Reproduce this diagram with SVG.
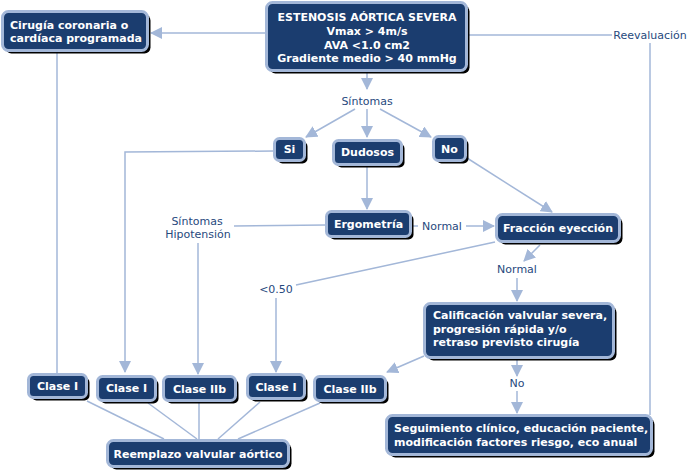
<svg xmlns="http://www.w3.org/2000/svg" width="690" height="474" viewBox="0 0 690 474">
<defs>
<marker id="arr" markerUnits="userSpaceOnUse" markerWidth="12" markerHeight="12" viewBox="0 0 12 12" refX="11" refY="6" orient="auto">
<path d="M0,0 L12,6 L0,12 Z" fill="#a3b7d8"/>
</marker>
<style>
.sh{fill:#000}
.bx{fill:#1b3d6f;stroke:#a3b7d8;stroke-width:3}
.t{font-family:"DejaVu Sans",Verdana,sans-serif;font-size:11px;font-weight:bold;fill:#fff}
.c{text-anchor:middle}
.lb{font-family:"DejaVu Sans",Verdana,sans-serif;font-size:11px;fill:#27497d;text-anchor:middle}
.ln{fill:none;stroke:#a3b7d8;stroke-width:1.5}
.ar{marker-end:url(#arr)}
</style>
</defs>
<rect width="690" height="474" fill="#fff"/>
<g id="connectors">
<line class="ln ar" x1="266" y1="33" x2="151" y2="33"/>
<line class="ln" x1="468" y1="35" x2="612" y2="35"/>
<text class="lb" x="650" y="39">Reevaluación</text>
<line class="ln" x1="650" y1="43" x2="650" y2="415"/>
<line class="ln ar" x1="367" y1="72" x2="367" y2="89"/>
<text class="lb" x="367" y="105">Síntomas</text>
<line class="ln ar" x1="355" y1="109" x2="306" y2="137"/>
<line class="ln ar" x1="367" y1="109" x2="367" y2="137"/>
<line class="ln ar" x1="380" y1="109" x2="431" y2="137"/>
<line class="ln" x1="57" y1="52" x2="57" y2="374"/>
<polyline class="ln ar" points="274,151 125,152 125,372"/>
<line class="ln ar" x1="367" y1="166" x2="367" y2="209"/>
<line class="ln" x1="412" y1="226" x2="418" y2="226"/>
<text class="lb" x="442" y="230">Normal</text>
<line class="ln ar" x1="466" y1="226" x2="494" y2="226"/>
<line class="ln" x1="326" y1="225" x2="234" y2="226"/>
<text class="lb" x="197" y="225">Síntomas</text>
<text class="lb" x="198" y="238">Hipotensión</text>
<line class="ln ar" x1="198" y1="243" x2="198" y2="374"/>
<line class="ln ar" x1="467" y1="158" x2="552" y2="212"/>
<line class="ln" x1="495" y1="242" x2="296" y2="285"/>
<text class="lb" x="276" y="293">&lt;0.50</text>
<line class="ln ar" x1="276" y1="298" x2="276" y2="372"/>
<line class="ln ar" x1="540" y1="245" x2="524" y2="261"/>
<text class="lb" x="517" y="273">Normal</text>
<line class="ln ar" x1="517" y1="278" x2="517" y2="301"/>
<line class="ln ar" x1="424" y1="356" x2="387" y2="372"/>
<line class="ln ar" x1="517" y1="360" x2="517" y2="376"/>
<text class="lb" x="517" y="387">No</text>
<line class="ln ar" x1="517" y1="391" x2="517" y2="413"/>
<line class="ln" x1="87" y1="401" x2="164" y2="439"/>
<line class="ln" x1="148" y1="403" x2="197" y2="439"/>
<line class="ln" x1="199" y1="403" x2="199" y2="439"/>
<line class="ln" x1="260" y1="402" x2="218" y2="439"/>
<line class="ln" x1="320" y1="403" x2="238" y2="439"/>
</g>
<g id="cirugia">
<rect class="sh" x="5.5" y="14.5" width="145" height="39" rx="6"/>
<rect class="bx" x="2.5" y="11.5" width="145" height="39" rx="6"/>
<text class="t" x="10" y="29">Cirugía coronaria o</text>
<text class="t" x="10" y="42">cardíaca programada</text>
</g>
<g id="estenosis">
<rect class="sh" x="269.5" y="5.5" width="200" height="68" rx="6"/>
<rect class="bx" x="266.5" y="2.5" width="200" height="68" rx="6"/>
<text class="t c" x="367" y="21">ESTENOSIS AÓRTICA SEVERA</text>
<text class="t c" x="367" y="35">Vmax &gt; 4m/s</text>
<text class="t c" x="367" y="48.5">AVA &lt;1.0 cm2</text>
<text class="t c" x="367" y="62">Gradiente medio &gt; 40 mmHg</text>
</g>
<g id="si">
<rect class="sh" x="277.5" y="141.5" width="30" height="22" rx="5"/>
<rect class="bx" x="274.5" y="138.5" width="30" height="22" rx="5"/>
<text class="t c" x="289.5" y="153">Si</text>
</g>
<g id="dudosos">
<rect class="sh" x="336.5" y="143.5" width="68" height="24" rx="5"/>
<rect class="bx" x="333.5" y="140.5" width="68" height="24" rx="5"/>
<text class="t c" x="367.5" y="156">Dudosos</text>
</g>
<g id="no">
<rect class="sh" x="436.5" y="139.5" width="32" height="24" rx="5"/>
<rect class="bx" x="433.5" y="136.5" width="32" height="24" rx="5"/>
<text class="t c" x="449.5" y="152.5">No</text>
</g>
<g id="ergometria">
<rect class="sh" x="329.5" y="214.5" width="84" height="25" rx="5"/>
<rect class="bx" x="326.5" y="211.5" width="84" height="25" rx="5"/>
<text class="t c" x="368.5" y="228">Ergometría</text>
</g>
<g id="fraccion">
<rect class="sh" x="499.5" y="217.5" width="123" height="27" rx="6"/>
<rect class="bx" x="496.5" y="214.5" width="123" height="27" rx="6"/>
<text class="t c" x="558" y="231.5">Fracción eyección</text>
</g>
<g id="calificacion">
<rect class="sh" x="427.5" y="306.5" width="189" height="54" rx="6"/>
<rect class="bx" x="424.5" y="303.5" width="189" height="54" rx="6"/>
<text class="t" x="433" y="319">Calificación valvular severa,</text>
<text class="t" x="433" y="333">progresión rápida y/o</text>
<text class="t" x="433" y="346">retraso previsto cirugía</text>
</g>
<g id="seguimiento">
<rect class="sh" x="389.5" y="418.5" width="265" height="39" rx="6"/>
<rect class="bx" x="386.5" y="415.5" width="265" height="39" rx="6"/>
<text class="t" x="394" y="432">Seguimiento clínico, educación paciente,</text>
<text class="t" x="394" y="446">modificación factores riesgo, eco anual</text>
</g>
<g id="clase1a">
<rect class="sh" x="31.5" y="377.5" width="58" height="23" rx="5"/>
<rect class="bx" x="28.5" y="374.5" width="58" height="23" rx="5"/>
<text class="t c" x="57.5" y="390">Clase I</text>
</g>
<g id="clase1b">
<rect class="sh" x="100.5" y="379.5" width="58" height="24" rx="5"/>
<rect class="bx" x="97.5" y="376.5" width="58" height="24" rx="5"/>
<text class="t c" x="126.5" y="392">Clase I</text>
</g>
<g id="clase2b1">
<rect class="sh" x="166.5" y="379.5" width="72" height="24" rx="5"/>
<rect class="bx" x="163.5" y="376.5" width="72" height="24" rx="5"/>
<text class="t c" x="199.5" y="392.5">Clase IIb</text>
</g>
<g id="clase1c">
<rect class="sh" x="250.5" y="377.5" width="57" height="24" rx="5"/>
<rect class="bx" x="247.5" y="374.5" width="57" height="24" rx="5"/>
<text class="t c" x="276" y="391">Clase I</text>
</g>
<g id="clase2b2">
<rect class="sh" x="317.5" y="379.5" width="71" height="24" rx="5"/>
<rect class="bx" x="314.5" y="376.5" width="71" height="24" rx="5"/>
<text class="t c" x="350" y="392.5">Clase IIb</text>
</g>
<g id="reemplazo">
<rect class="sh" x="110.5" y="443.5" width="181" height="26" rx="6"/>
<rect class="bx" x="107.5" y="440.5" width="181" height="26" rx="6"/>
<text class="t c" x="198" y="457.5">Reemplazo valvular aórtico</text>
</g>
</svg>
